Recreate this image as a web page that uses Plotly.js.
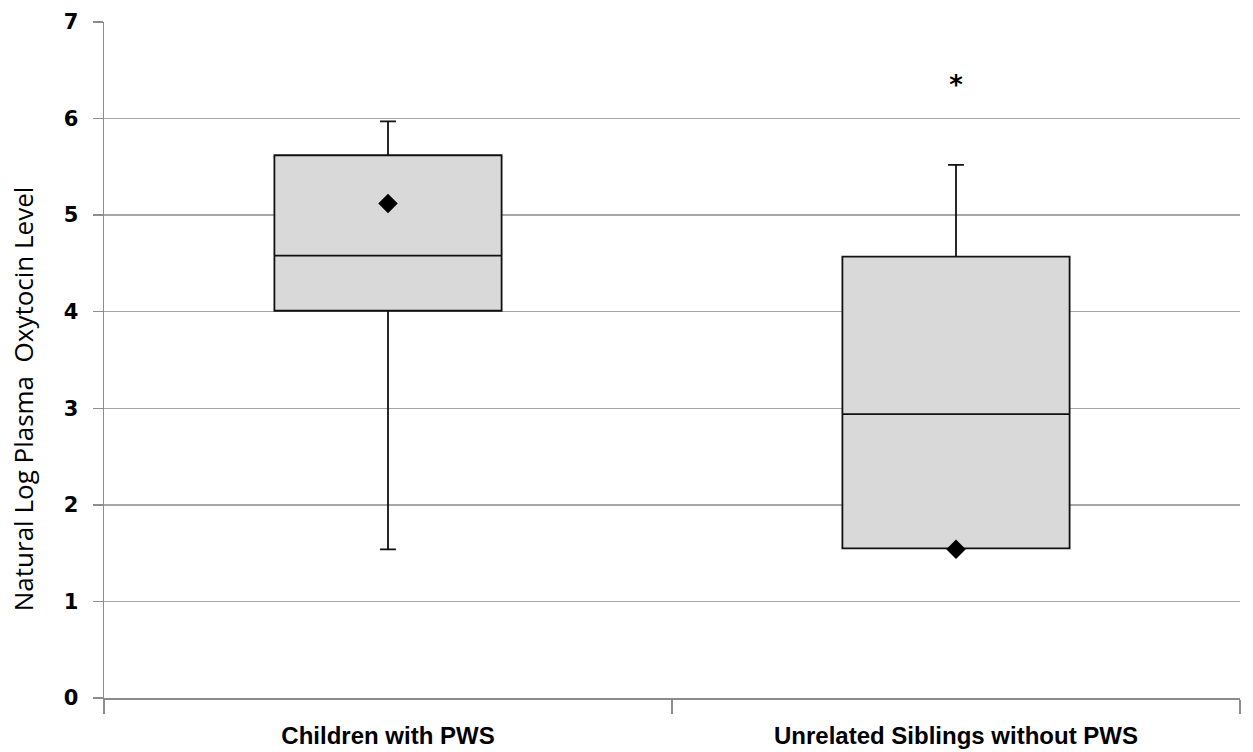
<!DOCTYPE html>
<html>
<head>
<meta charset="utf-8">
<script src="https://cdn.plot.ly/plotly-3.0.1.min.js"></script>
<style>html,body{margin:0;padding:0;background:#fff;}#chart{width:1253px;height:752px;}</style>
</head>
<body>
<div id="chart"></div>
<script>
const categories = ["Children with PWS", "Unrelated Siblings without PWS"];
const q1Values = [4.01, 1.55];
const medianValues = [4.58, 2.94];
const q3Values = [5.62, 4.57];
const lowerWhisker = [1.54, 1.55];
const upperWhisker = [5.97, 5.52];
const meanValues = [5.12, 1.54];
const outlierCategories = ["Unrelated Siblings without PWS"];
const outlierValues = [6.32];
const yTicks = [0, 1, 2, 3, 4, 5, 6, 7];
const yTitle = "Natural Log Plasma  Oxytocin Level";

const boxTrace = {
  type: "box",
  x: categories,
  q1: q1Values,
  median: medianValues,
  q3: q3Values,
  lowerfence: lowerWhisker,
  upperfence: upperWhisker,
  width: 0.4,
  whiskerwidth: 0.07,
  fillcolor: "#d9d9d9",
  line: {color: "#111111", width: 1.8},
  boxpoints: false,
  hoverinfo: "skip",
  showlegend: false
};

const meanTrace = {
  type: "scatter",
  mode: "markers",
  x: categories,
  y: meanValues,
  marker: {symbol: "diamond", size: 15, color: "#000000"},
  showlegend: false,
  hoverinfo: "skip"
};

const outlierTrace = {
  type: "scatter",
  mode: "text",
  x: outlierCategories,
  y: outlierValues,
  text: outlierCategories.map(() => "*"),
  textposition: "middle center",
  textfont: {family: "DejaVu Sans, sans-serif", size: 26, color: "#000000", weight: "bold"},
  showlegend: false,
  hoverinfo: "skip"
};

const layout = {
  width: 1253,
  height: 752,
  margin: {l: 104, r: 13, t: 22, b: 54},
  paper_bgcolor: "#ffffff",
  plot_bgcolor: "#ffffff",
  showlegend: false,
  xaxis: {
    type: "category",
    range: [-0.5, 1.5],
    tickson: "boundaries",
    ticks: "outside",
    ticklen: 14,
    tickwidth: 1.5,
    tickcolor: "#8c8c8c",
    showgrid: false,
    showline: true,
    linecolor: "#8c8c8c",
    linewidth: 1.5,
    zeroline: false,
    ticklabelstandoff: 16,
    tickfont: {family: "Liberation Sans, Arial, sans-serif", size: 24, color: "#000000", weight: "bold"},
    fixedrange: true
  },
  yaxis: {
    range: [0, 7],
    tickvals: yTicks,
    ticktext: yTicks.map(String),
    ticks: "outside",
    ticklen: 10,
    tickwidth: 1.5,
    tickcolor: "#8c8c8c",
    showgrid: true,
    gridcolor: "#a6a6a6",
    gridwidth: 1.5,
    showline: true,
    linecolor: "#8c8c8c",
    linewidth: 1.5,
    zeroline: false,
    ticklabelstandoff: 10,
    tickfont: {family: "DejaVu Sans, sans-serif", size: 21, color: "#000000", weight: "bold"},
    fixedrange: true
  },
  annotations: [{
    text: yTitle,
    xref: "paper", yref: "paper",
    x: -0.0713, y: 0.442,
    xanchor: "center", yanchor: "middle",
    textangle: -90,
    showarrow: false,
    font: {family: "Open Sans, sans-serif", size: 26, color: "#000000"}
  }]
};

Plotly.newPlot("chart", [boxTrace, meanTrace, outlierTrace], layout, {displayModeBar: false, staticPlot: true});
</script>
</body>
</html>
